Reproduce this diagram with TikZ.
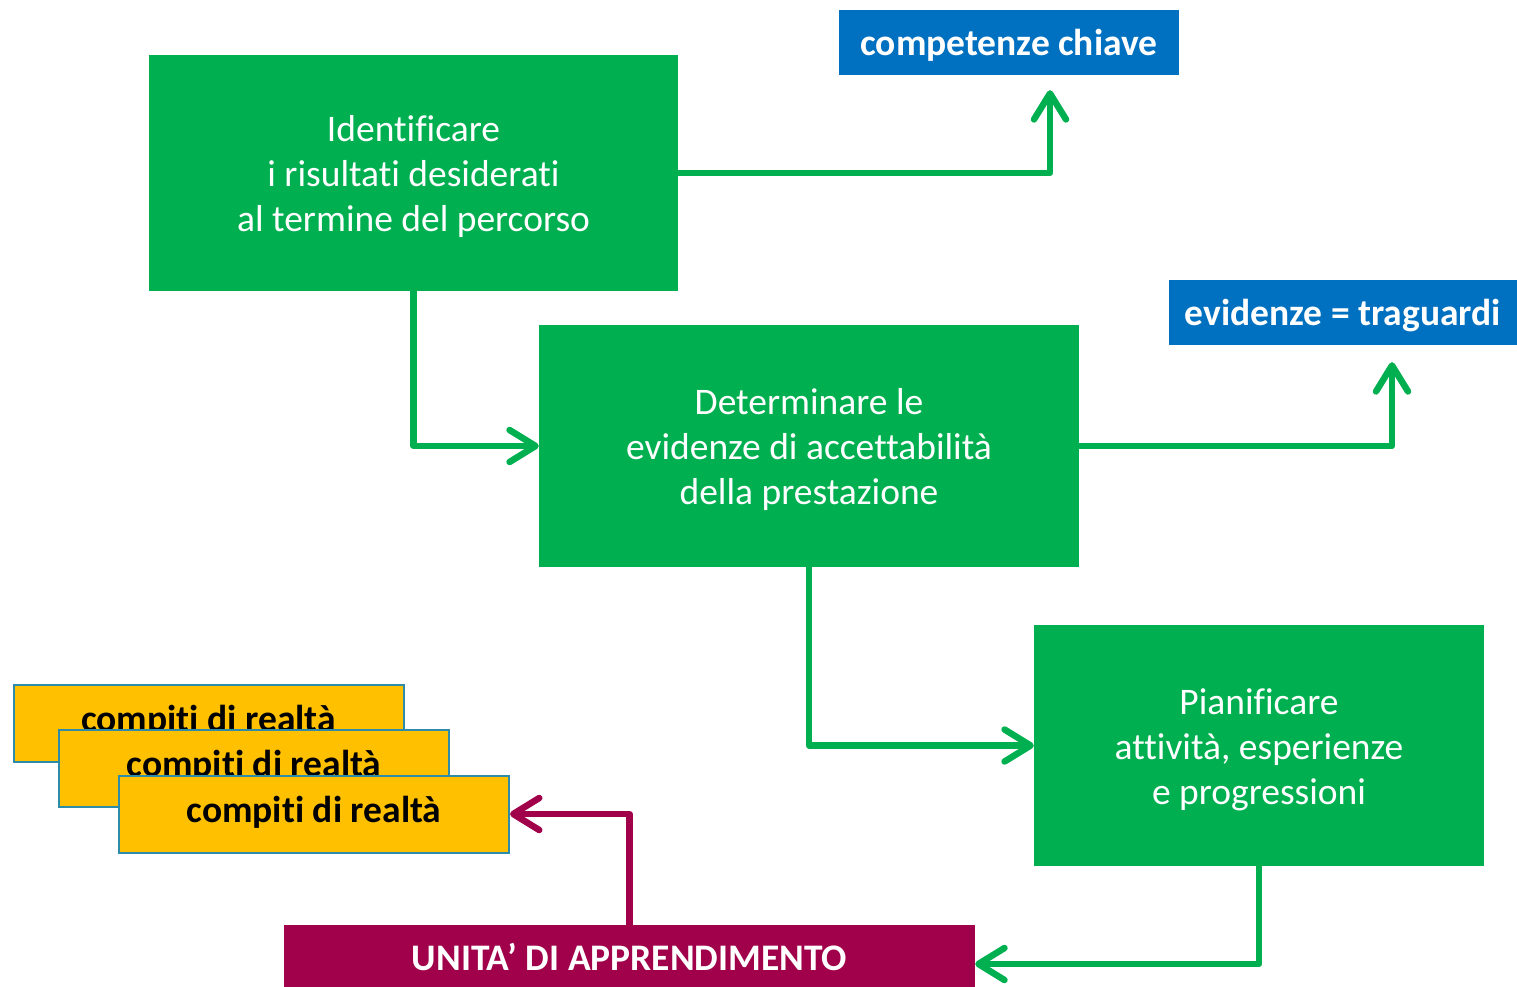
\documentclass[tikz,border=0pt]{standalone}
\usepackage{fontspec}
\setmainfont{Carlito}[Ligatures=NoCommon]
\usepackage{xcolor}
\usetikzlibrary{positioning,calc,arrows.meta}

\definecolor{stepgreen}{HTML}{00B050}
\definecolor{keyblue}{HTML}{0070C0}
\definecolor{taskyellow}{HTML}{FFC000}
\definecolor{taskedge}{HTML}{2E8CA8}
\definecolor{unitred}{HTML}{A1004A}

\tikzset{
    stepbox/.style={fill=stepgreen, text=white, align=center, font=\fontsize{37.5}{45}\selectfont,
        inner sep=0pt, text height=124pt},
    keybox/.style={fill=keyblue, text=white, font=\fontsize{37.5}{40}\bfseries\selectfont, inner sep=0pt,
        text height=34pt, text depth=8pt},
    taskbox/.style={fill=taskyellow, draw=taskedge, line width=2pt, font=\fontsize{37.5}{40}\bfseries\selectfont,
        inner sep=0pt, minimum width=390pt, minimum height=77pt},
    flow/.style={draw=stepgreen, line width=6.5pt, line join=round,
        -{Straight Barb[round, length=26pt, width=32pt]}},
}

\begin{document}
\begin{tikzpicture}[x=1pt, y=-1pt]
    \useasboundingbox (0,0) rectangle (1517,986);

    % steps
    \node [stepbox, minimum width=529pt, minimum height=236pt] (ident) at (413.5,173)
        {Identificare\\i risultati desiderati\\al termine del percorso};
    \node [stepbox, minimum width=540pt, minimum height=242pt] (determ) at (809,446)
        {Determinare le\\evidenze di accettabilità\\della prestazione};
    \node [stepbox, minimum width=450pt, minimum height=241pt] (plan) at (1259,745.5)
        {Pianificare\\attività, esperienze\\e progressioni};

    % keys
    \node [keybox, minimum width=340pt, minimum height=65pt] (compet) at (1009,42.5) {competenze chiave};
    \node [keybox, minimum width=348pt, minimum height=65pt] (evid) at (1343,312.5) {evidenze = traguardi};

    % tasks
    \node [taskbox] (task1) at (208.5,723.5) {\raisebox{10pt}{compiti di realtà}};
    \node [taskbox] (task2) at (254,768.5) {\raisebox{10pt}{compiti di realtà}};
    \node [taskbox] (task3) at (314,814) {\raisebox{10pt}{compiti di realtà}};

    % unit
    \node [fill=unitred, text=white, font=\fontsize{37.5}{40}\bfseries\selectfont, inner sep=0pt,
        text depth=14pt, minimum width=691pt, minimum height=78pt] (unit) at (629.5,964)
        {UNITA’ DI APPRENDIMENTO};

    % arrows
    \draw [flow] (ident.east) -| ([xshift=41pt, yshift=-15pt]compet.south);
    \draw [flow] (ident.south) |- (determ.west);
    \draw [flow] (determ.east) -| ([xshift=49pt, yshift=-17pt]evid.south);
    \draw [flow] (determ.south) |- (plan.west);
    \draw [flow] (plan.south) |- (unit.east);
    \draw [flow, draw=unitred] (unit.north) |- (task3.east);
\end{tikzpicture}
\end{document}
